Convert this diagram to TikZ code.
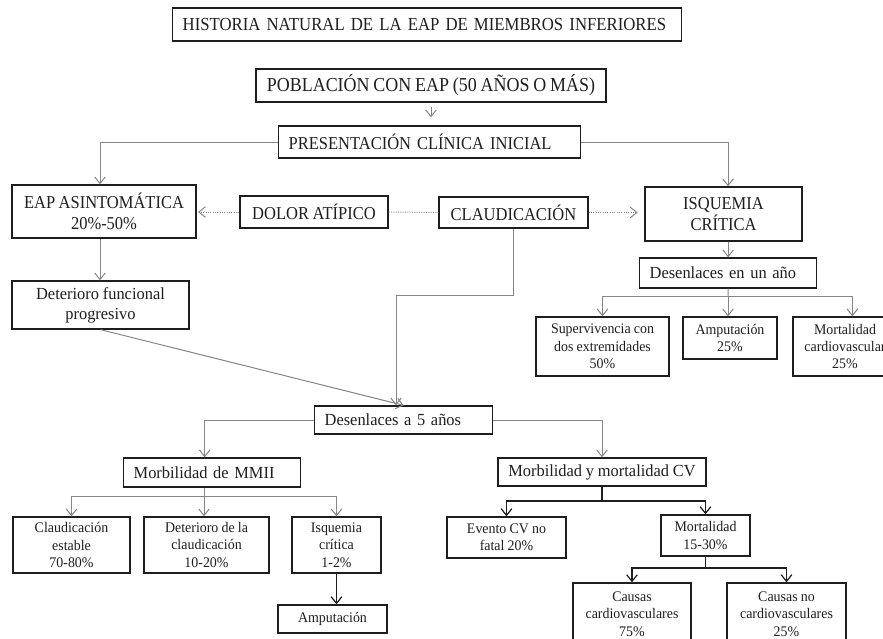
\documentclass[tikz,border=0pt]{standalone}
\usepackage{fontspec}
\setmainfont{Liberation Serif}
\newfontfamily\capsfont{Liberation Serif}[FakeStretch=0.91, WordSpace=0.85]
\newfontfamily\bodyfont{Liberation Serif}[FakeStretch=0.97, WordSpace=0.92]
\newfontfamily\notefont{Liberation Serif}[FakeStretch=0.95, WordSpace=0.9]
\usetikzlibrary{arrows.meta}
\definecolor{ink}{HTML}{1E1E1E}
\definecolor{wire}{HTML}{858585}
\tikzset{
  box/.style={draw=ink, line width=1pt, inner sep=0pt, align=center, text=ink},
  lbox/.style={box, align=left, inner xsep=7.5pt},
  sz/.style 2 args={minimum width=#1*0.75pt, minimum height=#2*0.75pt},
  tw/.style={text width=#1*0.75pt},
  big/.style={font=\capsfont\fontsize{13.6}{15.75}\selectfont},
  top/.style={font=\capsfont\fontsize{13.8}{15.75}\selectfont},
  med/.style={font=\bodyfont\fontsize{12.7}{15}\selectfont},
  small/.style={font=\notefont\fontsize{11}{13.1}\selectfont},
  plain/.style={draw=wire, line width=0.75pt},
  link/.style={plain, -{Straight Barb[length=5pt,width=8pt]}},
  dotline/.style={draw=wire, line width=0.75pt, densely dotted},
  dotlink/.style={dotline, -{Straight Barb[length=5pt,width=8pt]}},
  bplain/.style={draw=ink, line width=0.9pt},
  blink/.style={bplain, -{Straight Barb[length=5pt,width=8pt]}},
}
\begin{document}
\begin{tikzpicture}[x=0.75pt,y=-0.75pt]
\clip (0,0) rectangle (883,639);
\useasboundingbox (0,0) rectangle (883,639);

% title and population
\node[lbox, top, tw=489, minimum height=24.75pt, anchor=west] (title) at (172,24.5)
  {HISTORIA NATURAL DE LA EAP DE MIEMBROS INFERIORES};
\node[box, font=\capsfont\fontsize{14.8}{15.75}\selectfont, sz={350}{33}] (pob) at (431,85.5)
  {POBLACIÓN CON EAP (50 AÑOS O MÁS)};
\node[lbox, big, tw=282, minimum height=24pt, anchor=west] (pres) at (278,142)
  {PRESENTACIÓN CLÍNICA INICIAL};

% initial presentation
\node[box, big, sz={184}{53}] (eap) at (104,211.5) {EAP ASINTOMÁTICA\\20\%-50\%};
\node[box, big, sz={148}{32}] (dolor) at (314,212) {DOLOR ATÍPICO};
\node[box, big, sz={149}{31}] (claud) at (513.5,212.5) {CLAUDICACIÓN};
\node[box, big, sz={157}{54}] (isq) at (723.5,214) {ISQUEMIA\\CRÍTICA};

% one-year outcomes of critical ischaemia
\node[lbox, med, tw=157, minimum height=22.5pt, anchor=west] (desu) at (639,273) {Desenlaces en un año};
\node[box, small, sz={133}{59}] (superv) at (602.5,346.5) {Supervivencia con\\dos extremidades\\50\%};
\node[box, small, sz={94}{42}] (amp1) at (730,338) {Amputación\\25\%};
\node[box, small, sz={104}{59}] (mortcv) at (845,346.5) {Mortalidad\\cardiovascular\\25\%};

% functional decline and five-year outcomes
\node[box, med, sz={177}{48}] (det) at (100.5,305) {Deterioro funcional\\progresivo};
\node[lbox, med, tw=158, minimum height=21pt, anchor=west] (d5) at (314,420) {Desenlaces a 5 años};

% lower-limb morbidity
\node[lbox, med, tw=157, minimum height=21.75pt, anchor=west] (mmii) at (123,472.5) {Morbilidad de MMII};
\node[box, small, sz={117}{56}] (ce) at (71.5,545) {Claudicación\\estable\\70-80\%};
\node[box, small, sz={125}{56}] (dc) at (206.5,545) {Deterioro de la\\claudicación\\10-20\%};
\node[box, small, sz={89}{56}] (ic) at (336.5,545) {Isquemia\\crítica\\1-2\%};
\node[box, small, sz={109}{28}] (amp2) at (332.5,619) {Amputación};

% cardiovascular morbidity and mortality
\node[box, med, sz={208}{28}] (mycv) at (602,472) {Morbilidad y mortalidad CV};
\node[box, small, sz={119}{41}] (evento) at (506.5,537.5) {Evento CV no\\fatal 20\%};
\node[box, small, sz={89}{41}] (mort) at (705.5,535.5) {Mortalidad\\15-30\%};
\node[box, small, sz={118}{62}] (cc) at (632,614) {Causas\\cardiovasculares\\75\%};
\node[box, small, sz={119}{62}] (cnc) at (786.5,614) {Causas no\\cardiovasculares\\25\%};

% junction points
\coordinate (cbend) at (396,295);
\coordinate (dj) at (728,296);
\coordinate (mj) at (204,496);
\coordinate (cj) at (602,501);
\coordinate (kj) at (705.5,568);

% top connectors
\draw[link, shorten <=3pt, shorten >=6pt] (pob.south) -- (pob.south |- pres.north);
\draw[link] (pres.west) -| ([xshift=-3pt]eap.north);
\draw[link] (pres.east) -| ([xshift=3.4pt]isq.north);

% dotted relations between presentations
\draw[dotlink, shorten >=1pt] (dolor.west) -- (dolor.west -| eap.east);
\draw[dotline] (dolor.east) -- (claud.west);
\draw[dotlink, shorten >=5pt] (claud.east) -- (claud.east -| isq.west);

% towards five-year outcomes
\draw[link] ([xshift=-3pt]eap.south) -- ([xshift=-3pt]eap.south |- det.north);
\draw[link] (det.south) -- (d5.north);
\draw[plain] (claud.south) |- (cbend);
\draw[link] (cbend) -- (cbend |- d5.north);

% critical ischaemia outcomes
\draw[link] (desu.north |- isq.south) -- (desu.north);
\draw[plain] (desu.south) -- (dj);
\draw[link] (dj) -| (superv.north);
\draw[link] (dj) -- (dj |- amp1.north);
\draw[link] (dj) -| ([xshift=5.5pt]mortcv.north);

% five-year branches
\draw[link] (d5.west) -| ([xshift=-5.6pt]mmii.north);
\draw[link] (d5.east) -| (mycv.north);

% lower-limb branch
\draw[plain] (mj |- mmii.south) -- (mj);
\draw[link] (mj) -| (ce.north);
\draw[link] (mj) -- (mj |- dc.north);
\draw[link] (mj) -| (ic.north);
\draw[blink] (ic.south) -- (ic.south |- amp2.north);

% cardiovascular branch
\draw[bplain] (mycv.south) -- (cj);
\draw[blink] (cj) -| (evento.north);
\draw[blink] (cj) -| (mort.north);
\draw[bplain] (mort.south) -- (kj);
\draw[blink] (kj) -| (cc.north);
\draw[blink] (kj) -| (cnc.north);
\end{tikzpicture}
\end{document}
